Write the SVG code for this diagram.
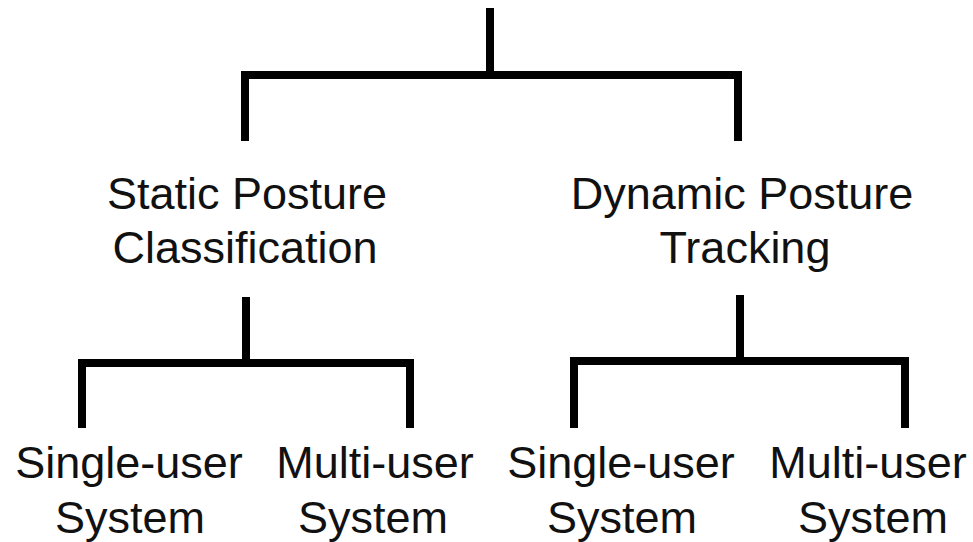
<svg xmlns="http://www.w3.org/2000/svg" width="973" height="542" viewBox="0 0 973 542">
  <style>
    .edge { fill: none; stroke: #000; stroke-width: 8; stroke-linecap: butt; stroke-linejoin: miter; }
    .label { font-family: "Liberation Sans", Arial, sans-serif; font-size: 45px; fill: #111; text-anchor: middle; }
  </style>
  <rect width="973" height="542" fill="#fff"/>
  <g id="connectors">
    <!-- root fork -->
    <path class="edge" d="M490 8 V75"/>
    <path class="edge" d="M245 141 V75 H738 V141"/>
    <!-- static posture fork -->
    <path class="edge" d="M246 297 V363"/>
    <path class="edge" d="M82 428 V363 H410 V428"/>
    <!-- dynamic posture fork -->
    <path class="edge" d="M740 295 V361"/>
    <path class="edge" d="M574 428 V361 H905 V428"/>
  </g>
  <g id="static">
    <text class="label" x="247" y="209">Static Posture</text>
    <text class="label" x="245" y="263">Classification</text>
  </g>
  <g id="dynamic">
    <text class="label" x="742" y="209">Dynamic Posture</text>
    <text class="label" x="745" y="263">Tracking</text>
  </g>
  <g id="static-single">
    <text class="label" x="129" y="478">Single-user</text>
    <text class="label" x="130" y="533">System</text>
  </g>
  <g id="static-multi">
    <text class="label" x="375" y="478">Multi-user</text>
    <text class="label" x="373" y="533">System</text>
  </g>
  <g id="dynamic-single">
    <text class="label" x="621" y="478">Single-user</text>
    <text class="label" x="622" y="533">System</text>
  </g>
  <g id="dynamic-multi">
    <text class="label" x="868" y="478">Multi-user</text>
    <text class="label" x="873" y="533">System</text>
  </g>
</svg>
